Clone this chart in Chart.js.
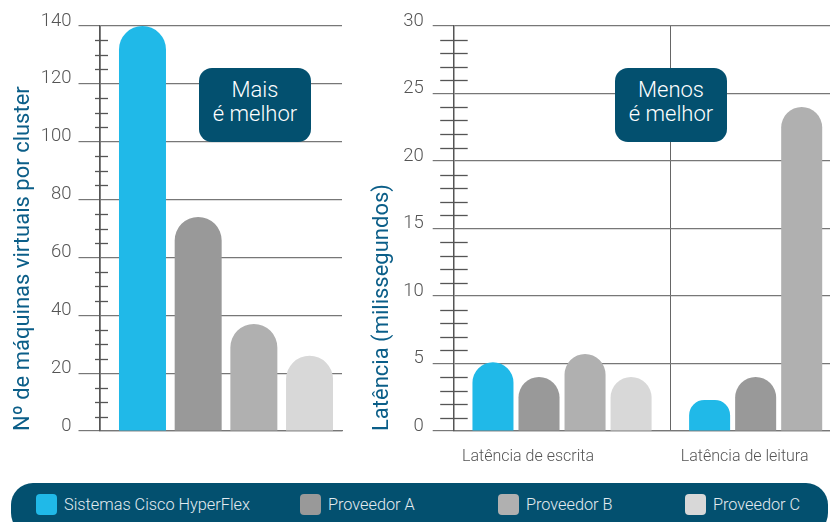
<!DOCTYPE html>
<html>
<head>
<meta charset="utf-8">
<script src="https://cdn.jsdelivr.net/npm/chart.js@4/dist/chart.umd.min.js"></script>
<style>
  html, body { margin: 0; padding: 0; background: #fff; overflow: hidden; }
  body { width: 830px; height: 522px; position: relative; font-family: Roboto, "Open Sans", sans-serif; }
  .box { position: absolute; }
  .note { position: absolute; width: 112px; height: 74px; border-radius: 13px; background: #03506f;
          color: #fff; font-size: 22px; font-weight: 300; line-height: 24px; text-align: center;
          display: flex; flex-direction: column; justify-content: center; padding-bottom: 6px; box-sizing: border-box; }
  #legend { position: absolute; left: 11px; top: 483px; width: 817px; height: 52px; border-radius: 22px; background: #03506f; }
  .li { position: absolute; top: 11px; height: 21px; display: flex; align-items: center; color: #e3ebf0; font-size: 16.3px; font-weight: 300; }
  .li i { display: inline-block; width: 21px; height: 21px; border-radius: 4px; margin-right: 7px; }
</style>
</head>
<body>
<div class="box" style="left:0;top:0;width:346px;height:470px"><canvas id="left"></canvas></div>
<div class="box" style="left:360px;top:0;width:530px;height:470px"><canvas id="right"></canvas></div>
<div class="note" style="left:199px;top:68px">Mais<br>é melhor</div>
<div class="note" style="left:615px;top:68px">Menos<br>é melhor</div>
<div id="legend"></div>

<script>
// series (same order on both panels)
const SERIES = ["Sistemas Cisco HyperFlex", "Proveedor A", "Proveedor B", "Proveedor C"];
const COLORS = ["#20b9e8", "#999999", "#b0b0b0", "#d8d8d8"];

// left panel: VMs per cluster, one bar per series
const VMS = [140, 74, 37, 26];
const VM_TICKS = { min: 0, max: 140, step: 20 };

// right panel: latency (ms), one array per series
const LAT_CATS = ["Latência de escrita", "Latência de leitura"];
const LAT_HX = [5.1, 2.3];
const LAT_A = [4, 4];
const LAT_B = [5.7, 24];
const LAT_C = [4, null]; // cut off at the right edge of the picture
const LAT_TICKS = { min: 0, max: 30, step: 5 };

const FONT = "Roboto, 'Open Sans', sans-serif";
const TITLE_COLOR = "#0b5e88";
const topRound = { topLeft: 100, topRight: 100, bottomLeft: 0, bottomRight: 0 };

/* small cross ticks on the value axis */
const minorTicks = {
  id: "minorTicks",
  beforeDatasetsDraw(chart, args, o) {
    const y = chart.scales.y, ax = chart.chartArea.left, c = chart.ctx;
    c.save(); c.strokeStyle = "#555"; c.lineWidth = 1.3;
    for (let v = y.min; v <= y.max; v += o.step) {
      if (v % o.major === 0) continue;
      const py = Math.round(y.getPixelForValue(v)) + 0.5;
      c.beginPath(); c.moveTo(ax - o.left, py); c.lineTo(ax + o.right, py); c.stroke();
    }
    c.restore();
  }
};

function yAxis(t, title, width, pad, titlePad) {
  return {
    min: t.min, max: t.max,
    ticks: { stepSize: t.step, color: "#555", padding: pad, labelOffset: -5, font: { family: FONT, size: 18.5, weight: 300 } },
    grid: { color: "#777", lineWidth: 1.2, tickLength: 21 },
    border: { color: "#555", width: 1.5 },
    title: { display: true, text: title, color: TITLE_COLOR, align: "start",
             font: { family: FONT, size: 22, weight: 400 }, padding: { top: titlePad, bottom: 0 } },
    afterFit: (s) => { s.width = width; },
  };
}

/* ---------------- left: VMs (bars on a linear x so the spacing matches) ---------------- */
new Chart(document.getElementById("left"), {
  type: "bar",
  data: {
    datasets: [{
      data: VMS.map((v, i) => ({ x: i + 1, y: v })),
      backgroundColor: COLORS, borderRadius: topRound, borderSkipped: false,
      categoryPercentage: 1, barPercentage: 0.844,
    }],
  },
  options: {
    responsive: true, maintainAspectRatio: false, animation: false,
    layout: { padding: { top: 26, right: 4, bottom: 0, left: 0 } },
    plugins: { legend: { display: false }, tooltip: { enabled: false },
               minorTicks: { step: 5, major: 20, left: 4.5, right: 8.5 } },
    scales: {
      x: {
        type: "linear", min: 0.228, max: 4.583, offset: false,
        afterBuildTicks: (s) => { s.ticks = [{ value: s.max }]; },
        ticks: { display: false },
        grid: { drawTicks: false, lineWidth: 2, color: "#aaa" },
        border: { color: "#777", width: 1.2 },
        afterFit: (s) => { s.height = 39; },
      },
      y: yAxis(VM_TICKS, "Nº de máquinas virtuais por cluster", 99.5, 7, 10),
    },
  },
  plugins: [minorTicks],
});

/* ---------------- right: latency ---------------- */
const LAT = [LAT_HX, LAT_A, LAT_B, LAT_C];
new Chart(document.getElementById("right"), {
  type: "bar",
  data: {
    labels: LAT_CATS,
    datasets: SERIES.map((name, i) => ({
      label: name, data: LAT[i], backgroundColor: COLORS[i], borderRadius: topRound, borderSkipped: false,
      categoryPercentage: 0.85, barPercentage: 0.891,
    })),
  },
  options: {
    responsive: true, maintainAspectRatio: false, animation: false,
    layout: { padding: { top: 26, right: 3, bottom: 0, left: 0 } },
    plugins: { legend: { display: false }, tooltip: { enabled: false },
               minorTicks: { step: 1, major: 5, left: 13.5, right: 14 } },
    scales: {
      x: {
        ticks: { color: "#555", padding: 16, labelOffset: -34, maxRotation: 0, font: { family: FONT, size: 16, weight: 300 } },
        grid: { offset: true, drawTicks: false, color: "#666", lineWidth: 1 },
        border: { color: "#777", width: 1.2 },
        afterFit: (s) => { s.height = 39; },
      },
      y: yAxis(LAT_TICKS, "Latência (milissegundos)", 93.7, 9, 9),
    },
  },
  plugins: [minorTicks],
});

/* ---------------- legend ---------------- */
const LEG_X = [25, 289, 487, 674]; // left of each swatch inside the bar
document.getElementById("legend").innerHTML = SERIES.map((s, i) =>
  `<div class="li" style="left:${LEG_X[i]}px"><i style="background:${COLORS[i]}"></i>${s}</div>`).join("");
</script>
</body>
</html>
